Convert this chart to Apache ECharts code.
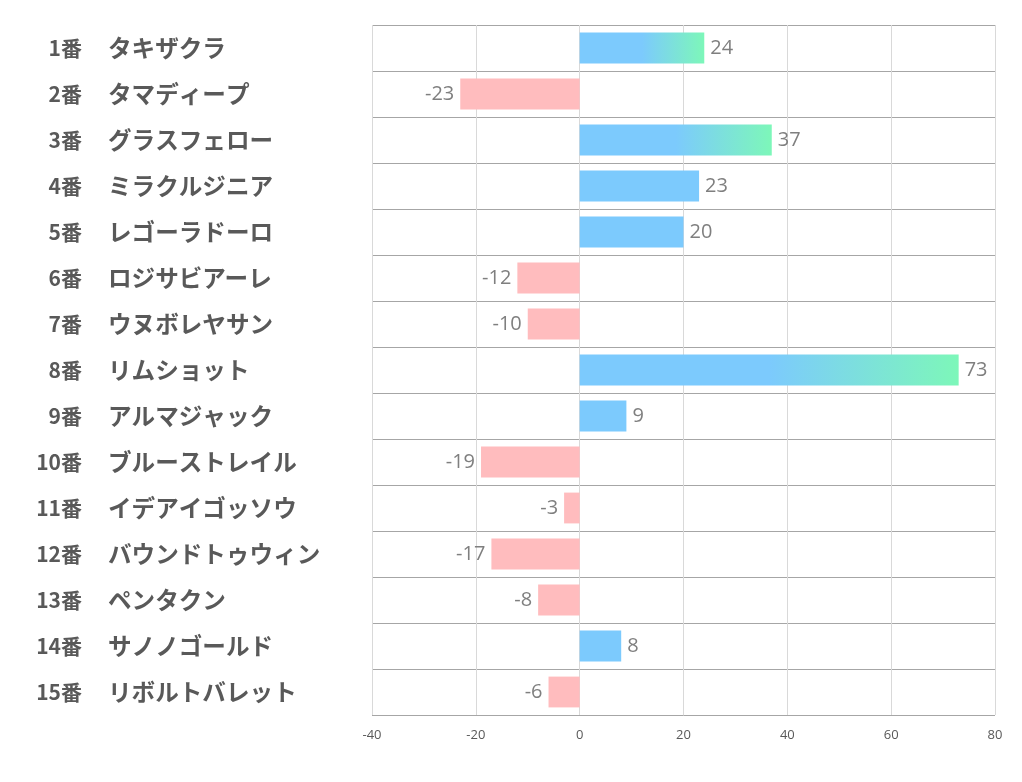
<!DOCTYPE html>
<html>
<head>
<meta charset="utf-8">
<title>chart</title>
<script src="https://cdn.jsdelivr.net/npm/echarts@6/dist/echarts.min.js"></script>
<style>
    html, body { margin: 0; padding: 0; background: #fff; }
    #main { width: 1022px; height: 782px; }
</style>
</head>
<body>
<div id="main"></div>
<script>
    // 馬番・馬名・値
    const numbers = ['1番', '2番', '3番', '4番', '5番', '6番', '7番', '8番', '9番', '10番', '11番', '12番', '13番', '14番', '15番'];
    const horses = ['タキザクラ', 'タマディープ', 'グラスフェロー', 'ミラクルジニア', 'レゴーラドーロ', 'ロジサビアーレ', 'ウヌボレヤサン',
        'リムショット', 'アルマジャック', 'ブルーストレイル', 'イデアイゴッソウ', 'バウンドトゥウィン', 'ペンタクン', 'サノノゴールド', 'リボルトバレット'];
    const values = [24, -23, 37, 23, 20, -12, -10, 73, 9, -19, -3, -17, -8, 8, -6];
    const xTicks = [-40, -20, 0, 20, 40, 60, 80];
    const highlighted = [0, 2, 7]; // グラデーションのバー

    const blue = '#7ccafd';
    const green = '#7df7b9';
    const pink = '#ffbcbe';
    const labelColor = '#595959';

    let myChart = echarts.init(document.getElementById('main'));

    let barData = values.map((v, i) => {
        let color = v < 0 ? pink : blue;
        if (highlighted.indexOf(i) >= 0) {
            color = new echarts.graphic.LinearGradient(0, 0, 1, 0, [
                {offset: 0, color: blue},
                {offset: 0.5, color: blue},
                {offset: 1, color: green}
            ]);
        }
        return {
            value: v,
            itemStyle: {color: color},
            label: {position: v < 0 ? 'left' : 'right'}
        };
    });

    let option = {
        animation: false,
        grid: {
            left: 372,
            right: 27,
            top: 25,
            bottom: 67,
            containLabel: false
        },
        xAxis: {
            type: 'value',
            min: xTicks[0],
            max: xTicks[xTicks.length - 1],
            interval: 20,
            axisLine: {show: false},
            axisTick: {show: false},
            axisLabel: {
                margin: 14,
                fontSize: 13,
                color: labelColor,
                fontFamily: 'Open Sans'
            },
            splitLine: {
                lineStyle: {color: '#d9d9d9', width: 1}
            }
        },
        yAxis: [
            {
                // 馬番
                type: 'category',
                inverse: true,
                data: numbers,
                axisLine: {show: false},
                axisTick: {show: false},
                splitLine: {
                    show: true,
                    interval: 0,
                    lineStyle: {color: '#a6a6a6', width: 1}
                },
                axisLabel: {
                    margin: 290,
                    align: 'right',
                    fontSize: 21,
                    fontWeight: 'bold',
                    color: labelColor,
                    fontFamily: 'Noto Sans CJK JP'
                }
            },
            {
                // 馬名
                type: 'category',
                inverse: true,
                position: 'left',
                data: horses,
                axisLine: {show: false},
                axisTick: {show: false},
                splitLine: {show: false},
                axisLabel: {
                    margin: 264,
                    align: 'left',
                    fontSize: 23.6,
                    fontWeight: 'bold',
                    color: labelColor,
                    fontFamily: 'Noto Sans CJK JP'
                }
            }
        ],
        series: [
            {
                type: 'bar',
                data: barData,
                barCategoryGap: '33%',
                label: {
                    show: true,
                    distance: 6,
                    fontSize: 20,
                    color: '#7f7f7f',
                    fontFamily: 'Open Sans'
                }
            }
        ]
    };
    myChart.setOption(option);
</script>
</body>
</html>
